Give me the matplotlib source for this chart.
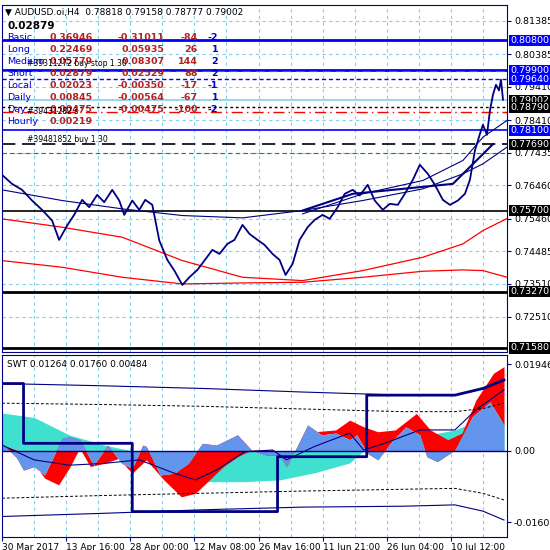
import numpy as np
from matplotlib import pyplot as plt
from matplotlib.transforms import blended_transform_factory as blend

plt.rcParams['font.family'] = ['DejaVu Sans']
NAVY = '#000080'
GRID = '#87CEEB'

# price chart (bar index, price)
px = [0, 10, 20, 30, 40, 50, 57, 65, 72, 80, 87, 95, 102, 110, 117, 122, 130, 137, 143, 150, 157,
      165, 172, 180, 187, 195, 202, 210, 217, 225, 232, 240, 247, 255, 262, 270, 277, 283, 290,
      297, 305, 312, 320, 327, 335, 342, 350, 357, 365, 372, 380, 387, 395, 402, 410, 417, 425,
      432, 440, 447, 455, 462, 467, 472, 477, 480, 484, 487, 490, 493, 496, 498, 500]
price = [0.7677, 0.7650, 0.7632, 0.7600, 0.7572, 0.7540, 0.7482, 0.7525, 0.7557, 0.7602, 0.7580,
         0.7617, 0.7595, 0.7632, 0.7600, 0.7557, 0.7600, 0.7572, 0.7602, 0.7587, 0.7480, 0.7422,
         0.7390, 0.7347, 0.7370, 0.7392, 0.7420, 0.7452, 0.7440, 0.7470, 0.7482, 0.7527, 0.7500,
         0.7482, 0.7467, 0.7440, 0.7422, 0.7377, 0.7410, 0.7482, 0.7520, 0.7542, 0.7557, 0.7545,
         0.7580, 0.7620, 0.7632, 0.7615, 0.7647, 0.7600, 0.7572, 0.7590, 0.7587, 0.7620, 0.7662,
         0.7707, 0.7680, 0.7647, 0.7602, 0.7587, 0.7600, 0.7620, 0.7662, 0.7750, 0.7800, 0.7827,
         0.7797, 0.7870, 0.7917, 0.7947, 0.7930, 0.7962, 0.7902]
ma_x = [0, 60, 120, 180, 240, 300, 360, 420, 460, 480, 504]
red_fast = [0.7545, 0.7520, 0.7490, 0.7420, 0.7370, 0.7360, 0.7390, 0.7430, 0.7470, 0.7510, 0.7546]
red_slow = [0.7420, 0.7400, 0.7370, 0.7350, 0.7353, 0.7355, 0.7370, 0.7388, 0.7392, 0.7390, 0.7370]
blue_slow = [0.7632, 0.7600, 0.7575, 0.7555, 0.7548, 0.7570, 0.7600, 0.7635, 0.7680, 0.7710, 0.7760]
blue_fast = [0.7700, 0.7640, 0.7590, 0.7540, 0.7520, 0.7560, 0.7620, 0.7660, 0.7720, 0.7790, 0.7840]

hlines = [  # price, color, width, style
    (0.80800, '#0000FF', 2.0, '-'), (0.79900, '#0000FF', 2.0, '-'), (0.79640, '#0000FF', 1.0, (0, (3, 2))),
    (0.79900 - 0.0001, '#00A000', 0.8, (0, (8, 4))), (0.79002, GRID, 1.2, '-'), (0.78790, 'black', 1.0, (0, (2, 2))),
    (0.78640, 'red', 1.0, (0, (8, 3, 1, 3))), (0.78100, '#0000FF', 1.2, '-'), (0.77690, 'black', 1.2, (0, (8, 4))),
    (0.77435, '#00A000', 0.8, (0, (4, 3))), (0.75700, 'black', 1.2, '-'), (0.73270, 'black', 2.0, '-'),
    (0.71580, 'black', 2.0, '-'),
]
price_ticks = [0.81385, 0.80385, 0.79410, 0.78410, 0.77435, 0.76460, 0.75460, 0.74485, 0.73510, 0.72510]
right_boxes = [(0.80800, '#0000FF'), (0.79900, '#0000FF'), (0.79640, '#0000FF'), (0.79002, 'black'),
               (0.78790, 'black'), (0.78100, '#0000FF'), (0.77690, 'black'), (0.75700, 'black'),
               (0.73270, 'black'), (0.71580, 'black')]
table_names = ['Basic', 'Long', 'Medium', 'Short', 'Local', 'Daily', 'Day', 'Hourly']
col1 = ['0.36946', '0.22469', '0.05779', '0.02879', '0.02023', '0.00845', '0.00475', '0.00219']
col2 = ['-0.31011', '0.05935', '0.08307', '0.02529', '-0.00350', '-0.00564', '-0.00475', '']
col3 = ['-84', '26', '144', '88', '-17', '-67', '-100', '']
col4 = ['-2', '1', '2', '2', '-1', '1', '-2', '']

# SWT panel
sx = [0, 32, 67, 102, 130, 172, 207, 242, 277, 312, 347, 361, 382, 417, 452, 473, 501]
s_val = [0.0085, 0.0075, 0.0036, 0.0013, 0.0, -0.0043, -0.0069, -0.0069, -0.0065, -0.0049,
         -0.0027, 0.0, 0.0006, 0.0032, 0.0047, 0.0066, 0.0070]
fx = [0, 14.5, 21.5, 32, 42.5, 60, 67, 77.5, 91.5, 105.5, 119.5, 130, 140.5, 144, 158, 172, 186,
      200, 214, 235, 249, 263, 277, 284, 294.5, 305, 319, 333, 347, 354, 364.5, 375, 389, 403,
      417, 424, 434.5, 452, 469.5, 487, 501]
f_val = [0.0017, -0.0015, -0.0043, -0.0035, -0.0054, 0.0028, 0.0032, 0.0025, -0.0032, 0.0013,
         -0.0028, -0.0039, 0.0013, 0.0010, -0.0054, -0.0050, -0.0028, 0.0017, 0.0013, 0.0036,
         0.0002, -0.0009, -0.0010, -0.0035, 0.0010, 0.0058, 0.0036, 0.0040, 0.0025, 0.0036,
         -0.0005, -0.0020, 0.0021, 0.0054, 0.0036, -0.0013, -0.0024, 0.0002, 0.0077, 0.0110, 0.0058]
mx = [0, 14.5, 32, 42.5, 56.5, 67, 77.5, 88, 102, 116, 130, 144, 161.5, 179, 193, 207, 221, 235,
      249, 270, 277, 287.5, 298, 312, 333, 347, 361, 375, 392.5, 413.5, 427.5, 445, 459, 473, 490.5, 501]
m_val = [0.0013, 0.0002, -0.0028, -0.0061, -0.0076, -0.0039, 0.0006, -0.0035, -0.0028, -0.0017,
         -0.0050, -0.0020, -0.0065, -0.0103, -0.0095, -0.0065, -0.0035, -0.0013, 0.0002, 0.0002,
         -0.0002, -0.0013, 0.0010, 0.0043, 0.0047, 0.0069, 0.0054, 0.0043, 0.0047, 0.0084, 0.0047,
         0.0025, 0.0040, 0.0114, 0.0174, 0.0189]
rx = [0, 32, 67, 102, 137, 172, 193, 214, 242, 270, 284, 312, 347, 361, 382, 417, 452, 473, 501]
r_val = [0.0013, -0.0020, -0.0032, -0.0028, -0.0020, -0.0050, -0.0065, -0.0043, -0.0002, 0.0002,
         -0.0020, 0.0010, 0.0040, 0.0002, 0.0017, 0.0047, 0.0047, 0.0092, 0.0137]
band_x = [0, 100, 200, 300, 400, 452, 480, 501]
band_up = [0.0151, 0.0146, 0.0140, 0.0132, 0.0125, 0.0125, 0.0140, 0.0159]
band_up2 = [0.0107, 0.0104, 0.0100, 0.0094, 0.0088, 0.0088, 0.0095, 0.0107]
band_dn2 = [-0.0106, -0.0100, -0.0095, -0.0090, -0.0086, -0.0084, -0.0095, -0.0110]
band_dn = [-0.0147, -0.0140, -0.0132, -0.0126, -0.0124, -0.0121, -0.0135, -0.0155]
step_x = [0, 21.5, 21.5, 130, 130, 275, 275, 364, 364, 452, 480, 501]
step_v = [0.0151, 0.0151, 0.0017, 0.0017, -0.0136, -0.0136, -0.0013, -0.0013, 0.0125, 0.0125, 0.0140, 0.0159]

xtick_pos = [0, 64, 128, 192, 256, 320, 384, 448]
xtick_lab = ['30 Mar 2017', '13 Apr 16:00', '28 Apr 00:00', '12 May 08:00', '26 May 16:00',
             '11 Jun 21:00', '26 Jun 04:00', '10 Jul 12:00']

W = H = 550
fig = plt.figure(figsize=(5.5, 5.5), dpi=100)
ax = fig.add_axes([2 / W, 1 - 352 / H, 505 / W, 347 / H])
ax2 = fig.add_axes([2 / W, 1 - 537 / H, 505 / W, 182 / H])

for a in (ax, ax2):
    a.set_xlim(0, 504)
    for s in a.spines.values():
        s.set_color(NAVY)
    for gx in range(32, 504, 32):
        a.axvline(gx, color=GRID, lw=0.8, ls=(0, (3, 3)), zorder=0)
    a.yaxis.tick_right()
    a.tick_params(axis='y', labelsize=6.8, length=3, color=NAVY, pad=2)

# main chart
ax.set_ylim(0.7146, 0.8186)
for t in price_ticks:
    ax.axhline(t, color=GRID, lw=0.8, ls=(0, (3, 3)), zorder=0)
ax.set_yticks(price_ticks)
ax.set_yticklabels([f'{t:.5f}' for t in price_ticks])
ax.set_xticks([])
for y, c, w, st in hlines:
    ax.axhline(y, color=c, lw=w, ls=st, zorder=1)
ax.plot(ma_x, red_fast, color='red', lw=0.9)
ax.plot(ma_x, red_slow, color='red', lw=0.9)
ax.plot(ma_x, blue_slow, color=NAVY, lw=0.8)
ax.plot(ma_x[5:], blue_fast[5:], color=NAVY, lw=0.8)
ax.plot([300, 350, 450, 490], [0.7570, 0.7620, 0.7650, 0.7769], color=NAVY, lw=1.5)
ax.plot(px, price, color=NAVY, lw=1.3, zorder=3)

tr = blend(ax.transAxes, ax.transData)
for y, c in right_boxes:
    ax.text(1.006, y, f'{y:.5f}', transform=tr, fontsize=6.8, color='white', va='center', ha='left',
            bbox=dict(boxstyle='square,pad=0.12', fc=c, ec='none'), clip_on=False, zorder=5)

ax.text(0.005, 0.992, '▼ AUDUSD.oi,H4  0.78818 0.79158 0.78777 0.79002', transform=ax.transAxes,
        fontsize=6.5, va='top', color='black')
ax.text(0.01, 0.953, '0.02879', transform=ax.transAxes, fontsize=7.5, weight='bold', va='top')
for i, name in enumerate(table_names):
    yy = 0.918 - i * 0.0345
    kw = dict(transform=ax.transAxes, fontsize=6.8, va='top')
    ax.text(0.01, yy, name, color='#0000CC', **kw)
    ax.text(0.095, yy, col1[i], color='#B22222', weight='bold', **kw)
    ax.text(0.322, yy, col2[i], color='#B22222', weight='bold', ha='right', **kw)
    ax.text(0.388, yy, col3[i], color='#B22222', weight='bold', ha='right', **kw)
    ax.text(0.428, yy, col4[i], color='#0000CC', weight='bold', ha='right', **kw)
ax.text(0.05, 0.845, '#39311272 buy stop 1.30', transform=ax.transAxes, fontsize=5.5, color='black', va='top')
ax.text(0.05, 0.707, '#39431282 s', transform=ax.transAxes, fontsize=5.5, color='black', va='top')
ax.text(0.05, 0.625, '#39481852 buy 1.30', transform=ax.transAxes, fontsize=5.5, color='black', va='top')

# SWT panel
ax2.set_ylim(-0.0193, 0.0215)
ax2.set_yticks([0.01946, 0.0, -0.01601])
ax2.set_yticklabels(['0.01946', '0.00', '-0.01601'])
ax2.fill_between(sx, 0, s_val, color='#40E0D0', lw=0)
grid_x = np.union1d(fx, mx)
ax2.fill_between(grid_x, np.interp(grid_x, fx, f_val), np.interp(grid_x, mx, m_val), color='red', lw=0)
ax2.fill_between(fx, 0, f_val, color='#6495ED', lw=0)
ax2.axhline(0, color=NAVY, lw=1)
ax2.plot(rx, r_val, color=NAVY, lw=0.8)
ax2.plot(band_x, band_up, color=NAVY, lw=0.8)
ax2.plot(band_x, band_dn, color=NAVY, lw=0.8)
ax2.plot(band_x, band_up2, color='black', lw=0.7, ls=(0, (3, 2)))
ax2.plot(band_x, band_dn2, color='black', lw=0.7, ls=(0, (3, 2)))
ax2.plot(step_x, step_v, color=NAVY, lw=2)
ax2.set_xticks(xtick_pos)
ax2.set_xticklabels(xtick_lab, fontsize=6.5, ha='left')
ax2.tick_params(axis='x', length=3, color=NAVY, pad=1)
ax2.text(0.01, 0.97, 'SWT 0.01264 0.01760 0.00484', transform=ax2.transAxes, fontsize=6.5, va='top')

fig.savefig('out.png', dpi=100, facecolor='white')
